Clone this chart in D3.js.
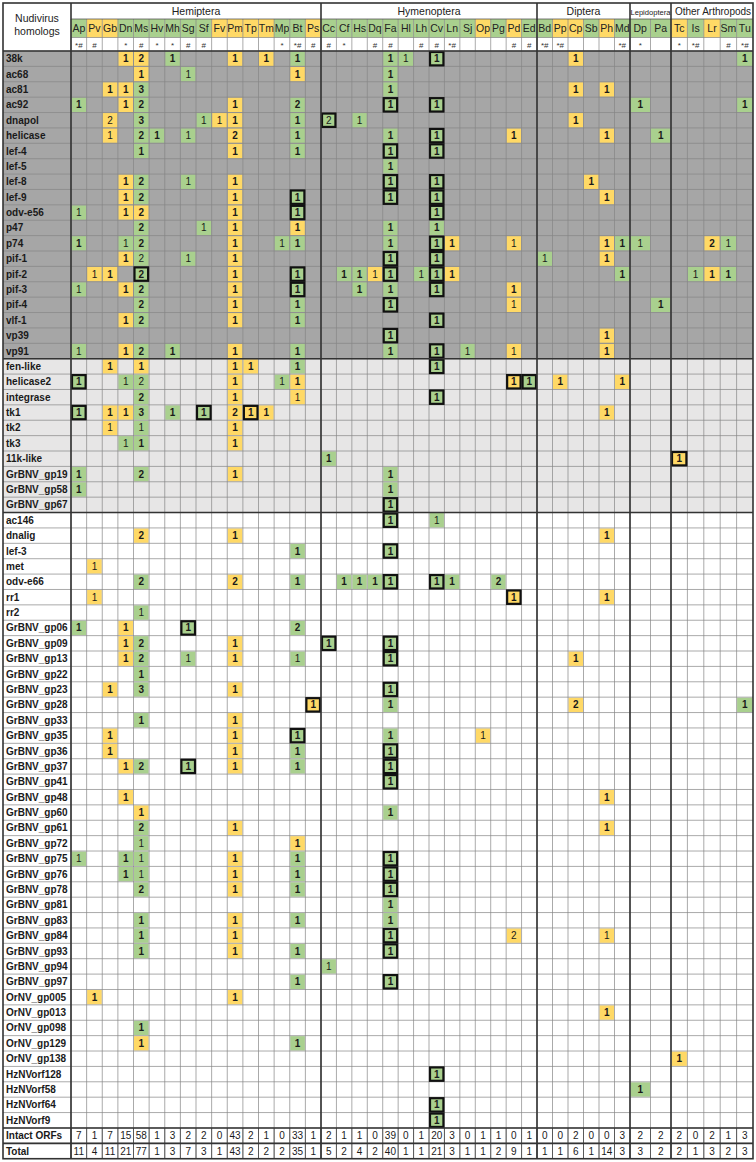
<!DOCTYPE html>
<html>
<head>
<meta charset="utf-8">
<script src="https://cdn.jsdelivr.net/npm/d3@7"></script>
<style>
  body { margin: 0; background: #fff; }
  text { font-family: Arial, "Liberation Sans", sans-serif; }
</style>
</head>
<body>
<div id="chart"></div>
<script>
// taxon groups and species codes
const groups = ["Hemiptera", "Hymenoptera", "Diptera", "Lepidoptera", "Other Arthropods"];
const groupSpecies = [
  ["Ap","Pv","Gb","Dn","Ms","Hv","Mh","Sg","Sf","Fv","Pm","Tp","Tm","Mp","Bt","Ps"],
  ["Cc","Cf","Hs","Dq","Fa","Hl","Lh","Cv","Ln","Sj","Op","Pg","Pd","Ed"],
  ["Bd","Pp","Cp","Sb","Ph","Md"],
  ["Dp","Pa"],
  ["Tc","Is","Lr","Sm","Tu"]
];
// header colour per species (g = green, y = yellow)
const speciesColor = [
  ["g","y","y","g","g","g","g","g","g","y","y","y","y","g","g","y"],
  ["g","g","g","g","g","g","g","g","g","g","y","g","y","g"],
  ["g","y","y","g","y","g"],
  ["g","g"],
  ["y","g","y","g","g"]
];
const speciesMarks = [
  ["*#","#","","*","#","*","*","#","#","","","","","*","*#","#"],
  ["#","*","","#","#","","#","#","*#","","","","#","#"],
  ["*#","*#","","","","*#"],
  ["*",""],
  ["*","*#","","#","*#"]
];

// cells: species code + count + colour (upper case = bold) + "#" when boxed
const coreGenes = [
  ["38k", "Dn1Y Ms2Y Mh1G Pm1Y Tm1Y Bt1G Fa1G Hl1g Cv1G# Cp1Y Tu1G"],
  ["ac68", "Ms1Y Sg1g Bt1Y Fa1G"],
  ["ac81", "Gb1Y Dn1Y Ms3G Fa1G Cp1Y Ph1Y"],
  ["ac92", "Ap1G Dn1Y Ms2G Pm1Y Bt2G Fa1G# Cv1G# Dp1G Tu1G"],
  ["dnapol", "Gb2y Ms3G Sf1g Fv1y Pm1Y Bt1G Cc2g# Hs1g Cp1Y"],
  ["helicase", "Gb1y Ms2G Hv1G Sg1g Pm2Y Bt1G Fa1G Cv1G# Pd1Y Ph1Y Pa1G"],
  ["lef-4", "Ms1G Pm1Y Bt1G Fa1G# Cv1G#"],
  ["lef-5", "Fa1G"],
  ["lef-8", "Dn1Y Ms2G Sg1g Pm1Y Fa1G# Cv1G# Sb1Y"],
  ["lef-9", "Dn1Y Ms2G Pm1Y Bt1G# Fa1G# Cv1G# Ph1Y"],
  ["odv-e56", "Ap1g Dn1Y Ms2Y Pm1Y Bt1G# Cv1G#"],
  ["p47", "Ms2G Sf1g Pm1Y Bt1Y Fa1G Cv1G"],
  ["p74", "Ap1G Dn1g Ms2G Pm1Y Mp1g Bt1G Fa1G Cv1G# Ln1Y Pd1y Ph1Y Md1G Dp1g Lr2Y Sm1g"],
  ["pif-1", "Dn1Y Ms2g Sg1g Pm1Y Fa1G# Cv1G# Bd1g Ph1Y"],
  ["pif-2", "Pv1y Gb1Y Ms2G# Pm1Y Bt1G# Cf1G Hs1G Dq1y Fa1G# Lh1g Cv1G# Ln1Y Md1G Is1g Lr1Y Sm1G"],
  ["pif-3", "Ap1g Dn1Y Ms2G Pm1Y Bt1G# Hs1G Fa1G Cv1G# Pd1Y"],
  ["pif-4", "Ms2G Pm1Y Bt1G Fa1G# Pd1y Pa1G"],
  ["vlf-1", "Dn1Y Ms2G Pm1Y Bt1G Cv1G#"],
  ["vp39", "Fa1G# Ph1Y"],
  ["vp91", "Ap1g Dn1Y Ms2G Mh1G Pm1Y Bt1G Fa1G Cv1G# Sj1g Pd1y Ph1Y"]
];
const sharedGenes = [
  ["fen-like", "Gb1Y Ms1Y Pm1Y Tp1Y Bt1G Cv1G#"],
  ["helicase2", "Ap1G# Dn1g Ms2g Pm1Y Mp1g Bt1Y Pd1Y# Ed1G# Pp1Y Md1Y"],
  ["integrase", "Ms2G Pm1Y Bt1y Cv1G#"],
  ["tk1", "Ap1G# Gb1Y Dn1Y Ms3G Mh1G Sf1G# Pm2Y Tp1Y# Tm1Y Ph1Y"],
  ["tk2", "Gb1y Ms1g Pm1Y"],
  ["tk3", "Dn1g Ms1G Pm1Y"],
  ["11k-like", "Cc1G Tc1Y#"],
  ["GrBNV_gp19", "Ap1G Ms2G Pm1Y Fa1G"],
  ["GrBNV_gp58", "Ap1G Fa1G"],
  ["GrBNV_gp67", "Fa1G#"]
];
const otherGenes = [
  ["ac146", "Fa1G# Cv1g"],
  ["dnalig", "Ms2Y Pm1Y Ph1Y"],
  ["lef-3", "Bt1G Fa1G#"],
  ["met", "Pv1y"],
  ["odv-e66", "Ms2G Pm2Y Bt1G Cf1G Hs1G Dq1G Fa1G# Cv1G# Ln1G Pg2G"],
  ["rr1", "Pv1y Pd1Y# Ph1Y"],
  ["rr2", "Ms1g"],
  ["GrBNV_gp06", "Ap1G Dn1Y Sg1G# Bt2G"],
  ["GrBNV_gp09", "Dn1Y Ms2G Pm1Y Cc1G# Fa1G#"],
  ["GrBNV_gp13", "Dn1Y Ms2G Sg1g Pm1Y Bt1g Fa1G# Cp1Y"],
  ["GrBNV_gp22", "Ms1G"],
  ["GrBNV_gp23", "Gb1Y Ms3G Pm1Y Fa1G#"],
  ["GrBNV_gp28", "Ps1Y# Fa1G Cp2Y Tu1G"],
  ["GrBNV_gp33", "Ms1G Pm1Y"],
  ["GrBNV_gp35", "Gb1Y Pm1Y Bt1G# Fa1G Op1y"],
  ["GrBNV_gp36", "Gb1Y Pm1Y Bt1G Fa1G#"],
  ["GrBNV_gp37", "Dn1Y Ms2G Sg1G# Pm1Y Bt1G Fa1G#"],
  ["GrBNV_gp41", "Fa1G#"],
  ["GrBNV_gp48", "Dn1Y Ph1Y"],
  ["GrBNV_gp60", "Ms1Y Fa1G"],
  ["GrBNV_gp61", "Ms2G Pm1Y Ph1Y"],
  ["GrBNV_gp72", "Ms1g Bt1Y"],
  ["GrBNV_gp75", "Ap1g Dn1G Ms1g Pm1Y Bt1G Fa1G#"],
  ["GrBNV_gp76", "Dn1G Ms1g Pm1Y Bt1G Fa1G#"],
  ["GrBNV_gp78", "Ms2G Pm1Y Bt1G Fa1G#"],
  ["GrBNV_gp81", "Fa1G"],
  ["GrBNV_gp83", "Ms1G Pm1Y Bt1G Fa1G"],
  ["GrBNV_gp84", "Ms1G Pm1Y Fa1G# Pd2y Ph1y"],
  ["GrBNV_gp93", "Ms1G Pm1Y Bt1G Fa1G#"],
  ["GrBNV_gp94", "Cc1g"],
  ["GrBNV_gp97", "Bt1G Fa1G#"],
  ["OrNV_gp005", "Pv1Y Pm1Y"],
  ["OrNV_gp013", "Ph1Y"],
  ["OrNV_gp098", "Ms1G"],
  ["OrNV_gp129", "Ms1Y Bt1G"],
  ["OrNV_gp138", "Tc1Y"],
  ["HzNVorf128", "Cv1G#"],
  ["HzNVorf58", "Dp1G"],
  ["HzNVorf64", "Cv1G#"],
  ["HzNVorf9", "Cv1G#"]
];
const intactORFs = [7,1,7,15,58,1,3,2,2,0,43,2,1,0,33,1, 2,1,1,0,39,0,1,20,3,0,1,1,0,1, 0,0,2,0,0,3, 2,2, 2,0,2,1,3];
const totalORFs  = [11,4,11,21,77,1,3,7,3,1,43,2,2,2,35,1, 5,2,4,2,40,1,1,21,3,1,1,2,9,1, 1,1,6,1,14,3, 3,2, 2,1,3,2,3];

// layout
const W = 756, H = 1162;
const xL = 3, xR = 753, yT = 3;
const labelRight = 71;
const groupEdges = [71, 321, 537, 630, 671, 753];
const groupRowB = 19, codeRowB = 37.5, headB = 51;
const rowH = 15.385;
const fills = { g: "#a9d08e", y: "#ffd966" };
const sectionBg = ["#a6a6a6", "#e7e6e6", "#ffffff"];

const svg = d3.select("#chart").append("svg")
  .attr("width", W).attr("height", H);

// column scales, one band scale per group
const allSpecies = groupSpecies.flat();
const colX = {}, colW = {};
groups.forEach((g, i) => {
  const sc = d3.scaleBand().domain(groupSpecies[i]).range([groupEdges[i], groupEdges[i + 1]]);
  groupSpecies[i].forEach(s => { colX[s] = sc(s); colW[s] = sc.bandwidth(); });
});

const sections = [coreGenes, sharedGenes, otherGenes];
const rowNames = sections.flat().map(d => d[0]).concat(["Intact ORFs", "Total"]);
const y = d3.scaleBand().domain(rowNames).range([headB, headB + rowNames.length * rowH]);
const yB = headB + rowNames.length * rowH;

function parseCells(str) {
  return str.split(" ").filter(Boolean).map(t => {
    const m = t.match(/^([A-Z][a-z])(\d)([GgYy])(#?)$/);
    return { sp: m[1], v: +m[2], color: m[3].toLowerCase(), bold: m[3] === m[3].toUpperCase(), boxed: m[4] === "#" };
  });
}

// section backgrounds
sections.forEach((sec, i) => {
  const y0 = y(sec[0][0]), y1 = y(sec[sec.length - 1][0]) + y.bandwidth();
  svg.append("rect").attr("x", xL).attr("y", y0).attr("width", xR - xL).attr("height", y1 - y0)
    .attr("fill", sectionBg[i]);
});

// header colour cells
const codeRow = svg.append("g");
allSpecies.forEach(s => {
  const gi = groupSpecies.findIndex(a => a.includes(s));
  const si = groupSpecies[gi].indexOf(s);
  codeRow.append("rect")
    .attr("x", colX[s]).attr("y", groupRowB).attr("width", colW[s]).attr("height", codeRowB - groupRowB)
    .attr("fill", fills[speciesColor[gi][si]]);
  codeRow.append("text")
    .attr("x", colX[s] + colW[s] / 2).attr("y", groupRowB + 13)
    .attr("text-anchor", "middle").attr("font-size", 10.5).attr("fill", "#222")
    .text(s);
  codeRow.append("text")
    .attr("x", colX[s] + colW[s] / 2).attr("y", codeRowB + 10)
    .attr("text-anchor", "middle").attr("font-size", 8).attr("fill", "#333")
    .text(speciesMarks[gi][si]);
});

// data cells
const cellG = svg.append("g");
const flatRows = sections.flat();
flatRows.forEach(([gene, str]) => {
  const ry = y(gene);
  parseCells(str).forEach(c => {
    cellG.append("rect")
      .attr("x", colX[c.sp] + 0.5).attr("y", ry + 0.5)
      .attr("width", colW[c.sp] - 1).attr("height", y.bandwidth() - 1)
      .attr("fill", fills[c.color]);
  });
});

// grid lines
const grid = svg.append("g").attr("stroke", "#858585").attr("stroke-width", 0.7);
rowNames.forEach(r => {
  grid.append("line").attr("x1", xL).attr("x2", xR).attr("y1", y(r)).attr("y2", y(r));
});
allSpecies.forEach(s => {
  grid.append("line").attr("x1", colX[s]).attr("x2", colX[s]).attr("y1", groupRowB).attr("y2", yB);
});
grid.append("line").attr("x1", labelRight).attr("x2", xR).attr("y1", codeRowB).attr("y2", codeRowB);
grid.append("line").attr("x1", labelRight).attr("x2", xR).attr("y1", groupRowB).attr("y2", groupRowB)
  .attr("stroke", "#444");

// boxed cells and numbers
const numG = svg.append("g");
flatRows.forEach(([gene, str]) => {
  const ry = y(gene);
  parseCells(str).forEach(c => {
    if (c.boxed) {
      numG.append("rect")
        .attr("x", colX[c.sp] + 1).attr("y", ry + 1)
        .attr("width", colW[c.sp] - 2).attr("height", y.bandwidth() - 2)
        .attr("fill", "none").attr("stroke", "#111").attr("stroke-width", 2.2);
    }
    numG.append("text")
      .attr("x", colX[c.sp] + colW[c.sp] / 2).attr("y", ry + y.bandwidth() / 2 + 3.5)
      .attr("text-anchor", "middle").attr("font-size", 10)
      .attr("font-weight", c.bold ? "bold" : "normal").attr("fill", "#1a1a1a")
      .text(c.v);
  });
});

// row labels
flatRows.forEach(([gene]) => {
  svg.append("text")
    .attr("x", xL + 3).attr("y", y(gene) + y.bandwidth() / 2 + 3.5)
    .attr("font-size", 10).attr("font-weight", "bold").attr("fill", "#1a1a1a")
    .text(gene);
});

// summary rows
[["Intact ORFs", intactORFs], ["Total", totalORFs]].forEach(([lab, vals]) => {
  const ry = y(lab);
  svg.append("text")
    .attr("x", xL + 3).attr("y", ry + y.bandwidth() / 2 + 3.5)
    .attr("font-size", 10).attr("font-weight", "bold").attr("fill", "#1a1a1a")
    .text(lab);
  allSpecies.forEach((s, i) => {
    svg.append("text")
      .attr("x", colX[s] + colW[s] / 2).attr("y", ry + y.bandwidth() / 2 + 3.5)
      .attr("text-anchor", "middle").attr("font-size", 10).attr("fill", "#1a1a1a")
      .text(vals[i]);
    svg.append("line")
      .attr("x1", colX[s]).attr("x2", colX[s]).attr("y1", ry).attr("y2", ry + y.bandwidth())
      .attr("stroke", "#444").attr("stroke-width", 0.8);
  });
});

// header titles
svg.append("text").attr("x", (xL + labelRight) / 2).attr("y", 22)
  .attr("text-anchor", "middle").attr("font-size", 10.5).attr("fill", "#222").text("Nudivirus");
svg.append("text").attr("x", (xL + labelRight) / 2).attr("y", 35)
  .attr("text-anchor", "middle").attr("font-size", 10.5).attr("fill", "#222").text("homologs");
groups.forEach((g, i) => {
  const cx = (groupEdges[i] + groupEdges[i + 1]) / 2;
  const t = svg.append("text").attr("x", cx).attr("y", 14.5)
    .attr("text-anchor", "middle").attr("font-size", 10.5).attr("fill", "#222").text(g);
  if (g === "Lepidoptera") t.attr("font-size", 7.6);
  if (g === "Other Arthropods") t.attr("font-size", 10).attr("x", cx + 1);
});

// heavy rules
const heavy = svg.append("g").attr("stroke", "#333").attr("stroke-width", 1.6).attr("fill", "none");
heavy.append("rect").attr("x", xL).attr("y", yT).attr("width", xR - xL).attr("height", yB - yT);
groupEdges.slice(0, -1).forEach(x => {
  heavy.append("line").attr("x1", x).attr("x2", x).attr("y1", yT).attr("y2", yB);
});
const hLines = [headB, y(sharedGenes[0][0]), y(otherGenes[0][0]), y("Intact ORFs"), y("Total")];
hLines.forEach(yy => {
  heavy.append("line").attr("x1", xL).attr("x2", xR).attr("y1", yy).attr("y2", yy);
});
</script>
</body>
</html>
